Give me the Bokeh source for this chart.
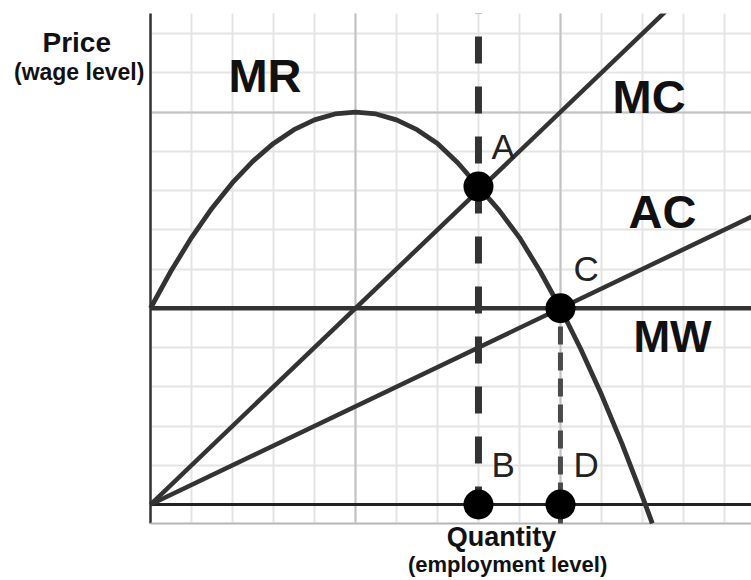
from bokeh.plotting import figure
from bokeh.models import Range1d, Grid, SingleIntervalTicker, Label
from bokeh.core.properties import value
from bokeh.embed import file_html
from bokeh.resources import INLINE

# ---- data (quantity on x, price/wage on y, in grid units) ----
mr_q = [0, 0.5, 1, 1.5, 2, 2.5, 3, 3.5, 4, 4.5, 5, 5.5, 6, 6.5, 7, 7.5, 8, 8.5,
        9, 9.5, 10, 10.5, 11, 11.5, 12, 12.24]
mr_p = [5, 5.95, 6.8, 7.55, 8.2, 8.75, 9.2, 9.55, 9.8, 9.95, 10, 9.95, 9.8, 9.55,
        9.2, 8.7, 8.1, 7.5, 6.8, 5.95, 5, 3.95, 2.8, 1.55, 0.2, -0.48]
mc_q = [0, 13]
mc_p = [0, 13]
ac_q = [0, 15]
ac_p = [0, 7.5]
mw_level = 5
point_names = ["A", "B", "C", "D"]
point_q = [8, 8, 10, 10]
point_p = [8.1, 0, 5, 0]
curve_names = ["MR", "MC", "AC", "MW"]

# extent of the graph paper (grid units)
Q_MIN, Q_MAX = 0, 14.66
P_MIN, P_MAX = -0.484, 12.51

INK = "#333333"
FONT = "Liberation Sans"

p = figure(width=751, height=580, output_backend="svg", toolbar_location=None,
           x_axis_type=None, y_axis_type=None,
           x_range=Range1d(-3.659, Q_MAX), y_range=Range1d(-1.936, P_MAX),
           min_border_left=0, min_border_right=0, min_border_top=13,
           min_border_bottom=0)
p.outline_line_color = None
p.background_fill_color = "white"
p.border_fill_color = "white"

# graph-paper grid
has_cross = "cross_bounds" in Grid.properties()


def paper_grid(dim, step, color):
    g = Grid(dimension=dim, ticker=SingleIntervalTicker(interval=step),
             grid_line_color=color, grid_line_width=2)
    if has_cross:
        g.cross_bounds = (Q_MIN, Q_MAX + 1) if dim == 1 else (P_MIN, P_MAX + 1)
    p.add_layout(g)


paper_grid(0, 1, "#e4e4e4")
paper_grid(1, 1, "#e4e4e4")
paper_grid(0, 5, "#c2c2c2")
paper_grid(1, 5, "#c2c2c2")

# blank margins outside the graph paper
p.quad(left=[-10, -10], right=[Q_MIN, 30], bottom=[-10, -10], top=[30, P_MIN],
       fill_color="white", line_color="white", line_width=2)

# frame lines
p.segment(x0=[Q_MIN], y0=[P_MIN], x1=[Q_MIN], y1=[P_MAX + 1],
          line_color=INK, line_width=2.5)
p.segment(x0=[Q_MIN], y0=[P_MIN], x1=[Q_MAX + 1], y1=[P_MIN],
          line_color="#b5b5b5", line_width=2)

# quantity axis line and minimum wage
p.segment(x0=[Q_MIN], y0=[0], x1=[Q_MAX + 1], y1=[0], line_color="#222222", line_width=3)
p.segment(x0=[Q_MIN], y0=[mw_level], x1=[Q_MAX + 1], y1=[mw_level],
          line_color=INK, line_width=4.5)

# curves
p.line(mc_q, mc_p, line_color=INK, line_width=4.5)
p.line(ac_q, ac_p, line_color=INK, line_width=4.5)
p.line(mr_q, mr_p, line_color=INK, line_width=4.8)

# dashed drop lines
p.segment(x0=[point_q[1]], y0=[point_p[1]], x1=[point_q[0]], y1=[P_MAX + 1],
          line_color=INK, line_width=7, line_dash="27 23", line_dash_offset=9)
p.segment(x0=[point_q[3]], y0=[P_MIN], x1=[point_q[2]], y1=[point_p[2]],
          line_color="#4a4a4a", line_width=5, line_dash="18 8", line_dash_offset=3)

# points
p.scatter(point_q, point_p, size=30, fill_color="black", line_color=None)

# point letters
p.text(x=point_q, y=point_p, text=point_names, x_offset=13, y_offset=-40,
       text_font=value(FONT), text_font_size="35px", text_color="#222222",
       text_baseline="alphabetic", text_align="left")

# curve labels
big = dict(text_font=FONT, text_font_style="bold", text_color="#111111",
           text_baseline="alphabetic", text_align="left")
p.add_layout(Label(x=1.90, y=10.93, text=curve_names[0], text_font_size="47px", **big))
p.add_layout(Label(x=11.27, y=10.39, text=curve_names[1], text_font_size="47px", **big))
p.add_layout(Label(x=11.66, y=7.46, text=curve_names[2], text_font_size="47px", **big))
p.add_layout(Label(x=11.78, y=4.27, text=curve_names[3], text_font_size="44px", **big))

# axis titles
ttl = dict(text_font=FONT, text_font_style="bold", text_color="#111111",
           text_baseline="alphabetic", text_align="center")
p.add_layout(Label(x=-1.80, y=11.78, text="Price", text_font_size="28px", **ttl))
p.add_layout(Label(x=-1.74, y=11.01, text="(wage level)", text_font_size="23px", **ttl))
p.add_layout(Label(x=8.56, y=-0.82, text="Quantity", text_font_size="27px", **ttl))
p.add_layout(Label(x=8.71, y=-1.52, text="(employment level)", text_font_size="22px", **ttl))

open("out.html", "w").write(file_html(p, INLINE))
